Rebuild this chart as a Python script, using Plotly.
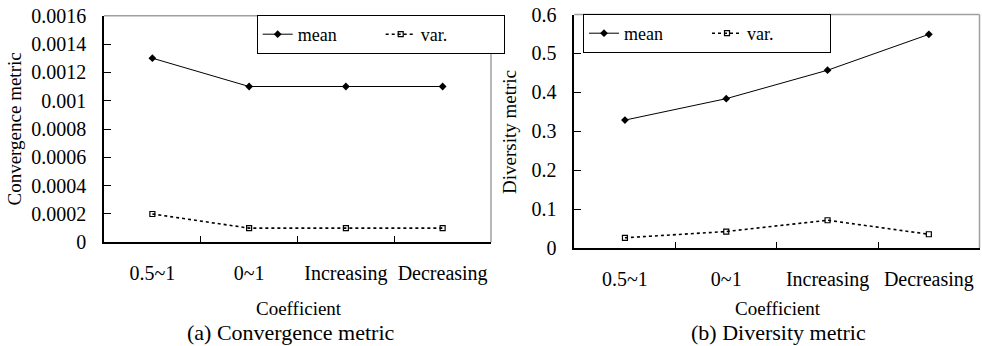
import plotly.graph_objects as go

categories = ["0.5~1", "0~1", "Increasing", "Decreasing"]
conv_mean = [0.0013, 0.0011, 0.0011, 0.0011]
conv_var = [0.0002, 0.0001, 0.0001, 0.0001]
div_mean = [0.329, 0.384, 0.457, 0.549]
div_var = [0.027, 0.043, 0.072, 0.036]

W, H = 982, 346
FONT = "Liberation Serif"

def px_x(v):
    return v / W

def px_y(v):
    return 1 - v / H

fig = go.Figure()

mean_style = dict(mode="lines+markers", line=dict(color="black", width=1),
                  marker=dict(symbol="diamond", size=6, color="black"))
var_style = dict(mode="lines+markers", line=dict(color="black", width=1.6, dash="dot"),
                 marker=dict(symbol="square-open", size=5, color="black", line=dict(width=1.2)))

fig.add_trace(go.Scatter(x=categories, y=conv_mean, name="mean", xaxis="x", yaxis="y",
                         legend="legend", **mean_style))
fig.add_trace(go.Scatter(x=categories, y=conv_var, name="var.", xaxis="x", yaxis="y",
                         legend="legend", **var_style))
fig.add_trace(go.Scatter(x=categories, y=div_mean, name="mean", xaxis="x2", yaxis="y2",
                         legend="legend2", **mean_style))
fig.add_trace(go.Scatter(x=categories, y=div_var, name="var.", xaxis="x2", yaxis="y2",
                         legend="legend2", **var_style))

L1 = (104, 491, 15.7, 242.3)
L2 = (574.3, 979.5, 14.5, 248.3)

tickfont = dict(family=FONT, size=20, color="black")

def xax(dom, anchor):
    return dict(domain=[px_x(dom[0]), px_x(dom[1])], anchor=anchor, type="category",
                range=[-0.5, 3.5], tickson="boundaries", ticks="inside", ticklen=7,
                tickcolor="black", showline=True, linecolor="black", linewidth=1.5,
                showgrid=False, zeroline=False, tickfont=tickfont, ticklabelstandoff=12,
                tickangle=0, fixedrange=True, automargin=False)

def yax(dom, anchor, rng, dtick, fmt):
    return dict(domain=[px_y(dom[3]), px_y(dom[2])], anchor=anchor, range=rng, dtick=dtick,
                ticks="inside", ticklen=7, tickcolor="black", showline=True, linecolor="black",
                linewidth=1.5, showgrid=False, zeroline=False, tickfont=tickfont,
                ticklabelstandoff=12, tickformat=fmt, fixedrange=True, automargin=False)

legfont = dict(family=FONT, size=18, color="black")

fig.update_layout(
    width=W, height=H, autosize=False,
    margin=dict(l=0, r=0, t=0, b=0, pad=0, autoexpand=False),
    paper_bgcolor="white", plot_bgcolor="white",
    font=dict(family=FONT, size=19, color="black"),
    xaxis=xax(L1, "y"),
    yaxis=yax(L1, "x", [0, 0.0016], 0.0002, ""),
    xaxis2=xax(L2, "y2"),
    yaxis2=yax(L2, "x2", [0, 0.6], 0.1, ""),
    legend=dict(x=px_x(256.7), y=px_y(15), xanchor="left", yanchor="top", orientation="h",
                bordercolor="black", borderwidth=1, bgcolor="white",
                font=legfont, entrywidth=78, entrywidthmode="pixels",
                itemwidth=30, tracegroupgap=0),
    legend2=dict(x=px_x(583), y=px_y(14), xanchor="left", yanchor="top", orientation="h",
                 bordercolor="black", borderwidth=1, bgcolor="white",
                 font=legfont, entrywidth=78, entrywidthmode="pixels",
                 itemwidth=30, tracegroupgap=0),
    showlegend=True,
)

for (x0, x1, y0, y1) in [L1, L2]:
    fig.add_shape(type="line", xref="paper", yref="paper", x0=px_x(x0), x1=px_x(x1),
                  y0=px_y(y0), y1=px_y(y0), line=dict(color="#a0a0a0", width=1.5), layer="below")
    fig.add_shape(type="line", xref="paper", yref="paper", x0=px_x(x1), x1=px_x(x1),
                  y0=px_y(y0), y1=px_y(y1), line=dict(color="#a0a0a0", width=1.5), layer="below")

def note(text, x, y, size=19, angle=0):
    return dict(text=text, x=px_x(x), y=px_y(y), xref="paper", yref="paper",
                xanchor="center", yanchor="middle", textangle=angle, showarrow=False,
                font=dict(family=FONT, size=size, color="black"))

ann = [
    note("Convergence metric", 14.5, 129, angle=-90),
    note("Diversity metric", 510, 132, angle=-90),
    note("Coefficient", 299, 308),
    note("Coefficient", 778, 308),
    note("(a) Convergence metric", 291, 332, size=22),
    note("(b) Diversity metric", 778, 332, size=22),
]
fig.update_layout(annotations=ann)

fig.write_html("out.html", config={"responsive": False, "displayModeBar": False},
               post_script="document.body.style.margin='0px';document.body.style.overflow='hidden';")
